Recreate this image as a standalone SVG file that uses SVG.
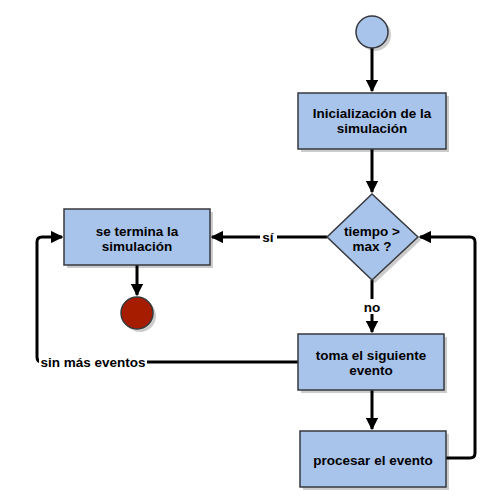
<svg xmlns="http://www.w3.org/2000/svg" width="501" height="504" viewBox="0 0 501 504">
<defs>
<style>
.n{fill:#a9c4eb;stroke:#36393d;stroke-width:1.5}
.sh{fill:#000;opacity:0.2}
.e{fill:none;stroke:#000;stroke-width:3}
.t{font-family:"Liberation Sans",Arial,sans-serif;font-size:13.5px;font-weight:bold;fill:#000;text-anchor:middle}
.l{font-family:"Liberation Sans",Arial,sans-serif;font-size:13.5px;font-weight:bold;fill:#000;text-anchor:middle}
</style>
<marker id="a" viewBox="0 0 10 10" refX="9" refY="5" markerWidth="4.2" markerHeight="4.2" markerUnits="strokeWidth" orient="auto">
<path d="M0,0 L10,5 L0,10 Z" fill="#000"/>
</marker>
</defs>
<rect width="501" height="504" fill="#fff"/>
<g id="connectors">
<path class="e" d="M372,48 V91" marker-end="url(#a)"/>
<path class="e" d="M372,149 V192" marker-end="url(#a)"/>
<path class="e" d="M327,237 H212" marker-end="url(#a)"/>
<path class="e" d="M137,265 V295" marker-end="url(#a)"/>
<path class="e" d="M372,280 V332" marker-end="url(#a)"/>
<path class="e" d="M372,390 V429" marker-end="url(#a)"/>
<path class="e" d="M298,362 H42 Q37,362 37,357 V242 Q37,237 42,237 H62" marker-end="url(#a)"/>
<path class="e" d="M446,458 H470 Q475,458 475,453 V242 Q475,237 470,237 H420" marker-end="url(#a)"/>
<rect x="260" y="229" width="17" height="15" fill="#fff"/>
<text class="l" x="268" y="242">sí</text>
<rect x="361" y="299" width="22" height="15" fill="#fff"/>
<text class="l" x="372" y="312">no</text>
<rect x="39" y="354" width="108" height="15" fill="#fff"/>
<text class="l" x="93" y="367">sin más eventos</text>
</g>
<g id="start">
<circle class="sh" cx="375" cy="35" r="16"/>
<circle class="n" cx="372" cy="32" r="16"/>
</g>
<g id="init">
<rect class="sh" x="301" y="96" width="148" height="56"/>
<rect class="n" x="298" y="93" width="148" height="56"/>
<text class="t" x="372" y="118">Inicialización de la</text>
<text class="t" x="372" y="133">simulación</text>
</g>
<g id="decision">
<path class="sh" d="M375,197 L421,240 L375,283 L330,240 Z"/>
<path class="n" d="M372,194 L418,237 L372,280 L327,237 Z"/>
<text class="t" x="372" y="236">tiempo &gt;</text>
<text class="t" x="372" y="251">max ?</text>
</g>
<g id="end-box">
<rect class="sh" x="67" y="212" width="146" height="56"/>
<rect class="n" x="64" y="209" width="146" height="56"/>
<text class="t" x="137" y="236">se termina la</text>
<text class="t" x="137" y="251">simulación</text>
</g>
<g id="end">
<circle class="sh" cx="140" cy="316" r="16"/>
<circle cx="137" cy="313" r="16" fill="#a51c00" stroke="#36393d" stroke-width="1.5"/>
</g>
<g id="next">
<rect class="sh" x="301" y="337" width="146" height="56"/>
<rect class="n" x="298" y="334" width="146" height="56"/>
<text class="t" x="371" y="360">toma el siguiente</text>
<text class="t" x="371" y="375">evento</text>
</g>
<g id="process">
<rect class="sh" x="303" y="434" width="146" height="56"/>
<rect class="n" x="300" y="431" width="146" height="56"/>
<text class="t" x="373" y="465">procesar el evento</text>
</g>
</svg>
